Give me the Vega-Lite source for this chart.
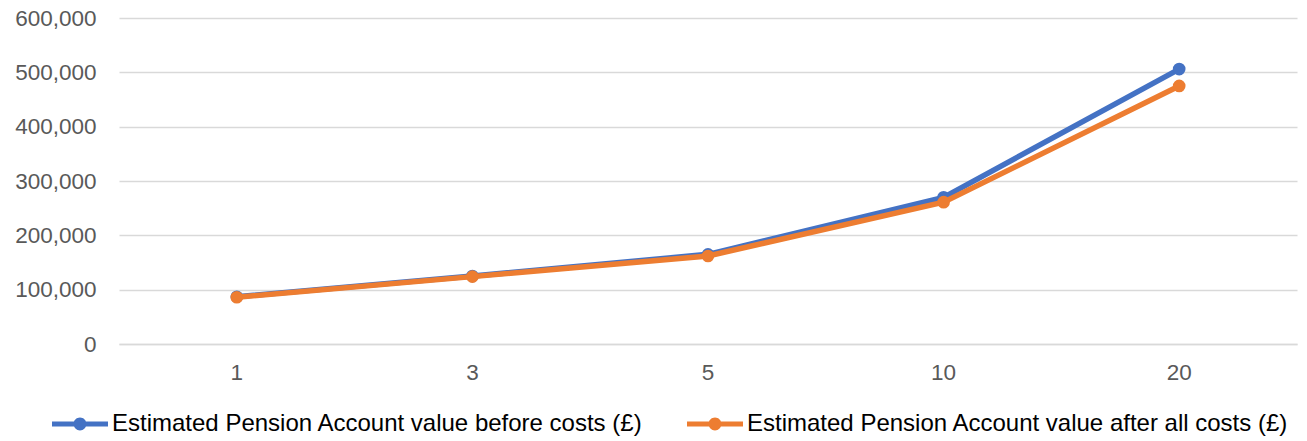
{
  "$schema": "https://vega.github.io/schema/vega-lite/v6.json",
  "width": 1178,
  "height": 326,
  "autosize": {"type": "none"},
  "padding": {"left": 119, "top": 18, "right": 10, "bottom": 97},
  "background": "#ffffff",
  "config": {
    "font": "Liberation Sans",
    "view": {"stroke": null},
    "axis": {
      "labelFont": "Liberation Sans",
      "labelFontSize": 22.5,
      "labelColor": "#595959",
      "ticks": false,
      "title": null,
      "gridColor": "#D9D9D9",
      "gridWidth": 1.5,
      "domainColor": "#D9D9D9",
      "domainWidth": 1.5
    }
  },
  "data": {
    "values": [
      {"year": "1", "series": "Estimated Pension Account value before costs (£)", "value": 87000},
      {"year": "3", "series": "Estimated Pension Account value before costs (£)", "value": 125000},
      {"year": "5", "series": "Estimated Pension Account value before costs (£)", "value": 165000},
      {"year": "10", "series": "Estimated Pension Account value before costs (£)", "value": 270000},
      {"year": "20", "series": "Estimated Pension Account value before costs (£)", "value": 506000},
      {"year": "1", "series": "Estimated Pension Account value after all costs (£)", "value": 86000},
      {"year": "3", "series": "Estimated Pension Account value after all costs (£)", "value": 124000},
      {"year": "5", "series": "Estimated Pension Account value after all costs (£)", "value": 162000},
      {"year": "10", "series": "Estimated Pension Account value after all costs (£)", "value": 261000},
      {"year": "20", "series": "Estimated Pension Account value after all costs (£)", "value": 475000}
    ]
  },
  "encoding": {
    "x": {
      "field": "year",
      "type": "ordinal",
      "sort": ["1", "3", "5", "10", "20"],
      "scale": {"type": "band", "paddingInner": 0, "paddingOuter": 0},
      "axis": {"labelAngle": 0, "labelPadding": 17, "grid": false, "domain": true}
    },
    "y": {
      "field": "value",
      "type": "quantitative",
      "scale": {"domain": [0, 600000], "nice": false},
      "axis": {"values": [0, 100000, 200000, 300000, 400000, 500000, 600000], "format": ",d", "labelPadding": 23, "domain": false, "grid": true}
    },
    "color": {
      "field": "series",
      "type": "nominal",
      "scale": {
        "domain": ["Estimated Pension Account value before costs (£)", "Estimated Pension Account value after all costs (£)"],
        "range": ["#4472C4", "#ED7D31"]
      },
      "legend": {
        "title": null,
        "orient": "none",
        "direction": "horizontal",
        "legendX": -67,
        "legendY": 378,
        "labelFont": "Liberation Sans",
        "labelFontSize": 24,
        "labelColor": "#000000",
        "labelLimit": 700,
        "labelOffset": 4,
        "columnPadding": 44,
        "symbolType": "M-1,-0.09H1V0.09H-1Z M0.23,0A0.23,0.23 0 1,1 -0.23,0A0.23,0.23 0 1,1 0.23,0Z",
        "symbolSize": 3136,
        "symbolStrokeWidth": 0,
        "encode": {
          "symbols": {"update": {"fill": {"scale": "color", "field": "value"}, "fillOpacity": {"value": 1}}}
        }
      }
    }
  },
  "layer": [
    {
      "transform": [{"filter": "datum.series === 'Estimated Pension Account value before costs (£)'"}],
      "mark": {"type": "line", "strokeWidth": 5.5, "point": {"filled": true, "size": 160, "opacity": 1}}
    },
    {
      "transform": [{"filter": "datum.series === 'Estimated Pension Account value after all costs (£)'"}],
      "mark": {"type": "line", "strokeWidth": 5.5, "point": {"filled": true, "size": 160, "opacity": 1}}
    }
  ]
}
